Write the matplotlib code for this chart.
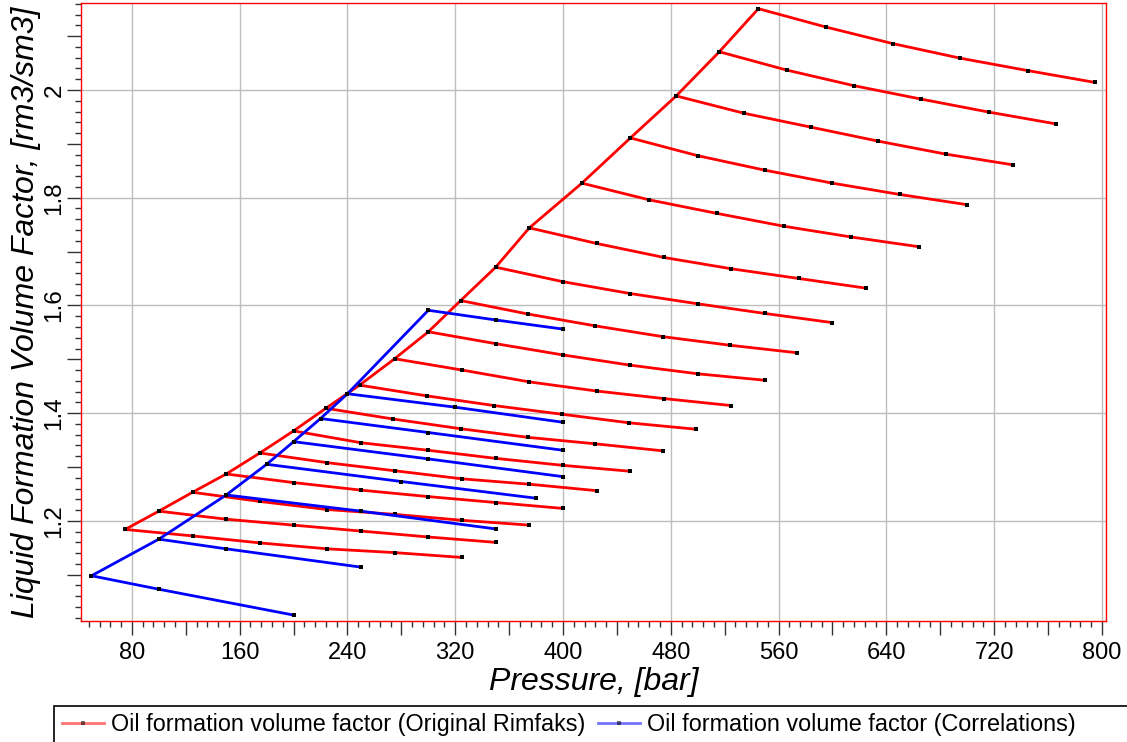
import matplotlib
matplotlib.use("Agg")
import matplotlib.pyplot as plt
from matplotlib.lines import Line2D
from matplotlib.patches import Rectangle
from matplotlib.ticker import MultipleLocator, FuncFormatter

plt.rcParams['font.family'] = ['Liberation Sans', 'DejaVu Sans']

# Original Rimfaks: bubble points and the undersaturated branch from each one
red_pb = [75, 100, 125, 150, 175, 200, 224, 249, 275, 300, 324, 350, 375,
          414, 450, 484, 516, 545]
red_bob = [1.184, 1.218, 1.253, 1.287, 1.326, 1.367, 1.409, 1.452, 1.501,
           1.551, 1.609, 1.671, 1.744, 1.827, 1.911, 1.989, 2.071, 2.151]
red_steps = [0, 50, 100, 150, 200, 250]  # bar above bubble point
red_bo = [
    [1.184, 1.172, 1.159, 1.148, 1.141, 1.132],
    [1.218, 1.203, 1.192, 1.181, 1.170, 1.160],
    [1.253, 1.236, 1.221, 1.212, 1.201, 1.192],
    [1.287, 1.271, 1.257, 1.245, 1.234, 1.223],
    [1.326, 1.308, 1.293, 1.278, 1.268, 1.256],
    [1.367, 1.345, 1.331, 1.316, 1.303, 1.292],
    [1.409, 1.389, 1.371, 1.355, 1.343, 1.330],
    [1.452, 1.432, 1.414, 1.398, 1.382, 1.370],
    [1.501, 1.480, 1.458, 1.441, 1.427, 1.414],
    [1.551, 1.529, 1.508, 1.489, 1.473, 1.461],
    [1.609, 1.584, 1.562, 1.542, 1.526, 1.512],
    [1.671, 1.644, 1.622, 1.603, 1.585, 1.568],
    [1.744, 1.715, 1.689, 1.668, 1.650, 1.632],
    [1.827, 1.796, 1.771, 1.747, 1.727, 1.709],
    [1.911, 1.878, 1.851, 1.827, 1.806, 1.787],
    [1.989, 1.957, 1.931, 1.905, 1.881, 1.861],
    [2.071, 2.037, 2.008, 1.983, 1.959, 1.937],
    [2.151, 2.117, 2.086, 2.059, 2.036, 2.014],
]

# Correlations
blue_pb = [50, 100, 150, 180, 200, 220, 240, 300]
blue_bob = [1.098, 1.166, 1.248, 1.305, 1.347, 1.390, 1.436, 1.591]
blue_p = [
    [50, 100, 200],
    [100, 150, 250],
    [150, 250, 350],
    [180, 280, 380],
    [200, 300, 400],
    [220, 300, 400],
    [240, 320, 400],
    [300, 350, 400],
]
blue_bo = [
    [1.098, 1.073, 1.025],
    [1.166, 1.148, 1.114],
    [1.248, 1.218, 1.185],
    [1.305, 1.273, 1.242],
    [1.347, 1.315, 1.282],
    [1.390, 1.364, 1.331],
    [1.436, 1.411, 1.383],
    [1.591, 1.573, 1.556],
]

labels = ["Oil formation volume factor (Original Rimfaks)",
          "Oil formation volume factor (Correlations)"]

W, H = 1127, 742
fig = plt.figure(figsize=(W / 100, H / 100), dpi=100)
ax = fig.add_axes([80.7 / W, 1 - 621 / H, (1106 - 80.7) / W, (621 - 3.3) / H])

style = dict(lw=2.0, marker='s', ms=3.2, mfc='black', mec='black', mew=0)

ax.plot(red_pb, red_bob, color='#ff0000', zorder=3, **style)
for pb, bo in zip(red_pb, red_bo):
    ax.plot([pb + s for s in red_steps], bo, color='#ff0000', zorder=3, **style)

ax.plot(blue_pb, blue_bob, color='#0000ff', zorder=4, **style)
for p, bo in zip(blue_p, blue_bo):
    ax.plot(p, bo, color='#0000ff', zorder=4, **style)

ax.set_xlim(42, 803)
ax.set_ylim(1.014, 2.161)

# grid only on labelled values
for v in range(80, 801, 80):
    ax.axvline(v, color='#bdbdbd', lw=1, zorder=1)
for v in [1.2, 1.4, 1.6, 1.8, 2.0]:
    ax.axhline(v, color='#bdbdbd', lw=1, zorder=1)

ax.xaxis.set_major_locator(MultipleLocator(40))
ax.xaxis.set_minor_locator(MultipleLocator(8))
ax.yaxis.set_major_locator(MultipleLocator(0.1))
ax.yaxis.set_minor_locator(MultipleLocator(0.02))
ax.xaxis.set_major_formatter(FuncFormatter(
    lambda v, pos: f'{v:g}' if round(v) % 80 == 0 else ''))
ax.yaxis.set_major_formatter(FuncFormatter(
    lambda v, pos: f'{round(v, 1):g}' if round(v * 10) % 2 == 0 else ''))

ax.tick_params(which='major', length=10, width=1, color='#333333',
               direction='out')
ax.tick_params(which='minor', length=4, width=1, color='#333333', direction='out')
ax.tick_params(axis='x', pad=5, labelsize=17)
ax.tick_params(axis='y', pad=1, labelsize=17.5)
plt.setp(ax.get_yticklabels(), rotation=90, va='center')

for sp in ax.spines.values():
    sp.set_color('#ff0000')
    sp.set_linewidth(1)

ax.set_xlabel("Pressure, [bar]", fontsize=23, fontstyle='italic')
ax.set_ylabel("Liquid Formation Volume Factor, [rm3/sm3]", fontsize=23,
              fontstyle='italic')
ax.xaxis.set_label_coords(0.5, -0.075)
ax.yaxis.set_label_coords(-0.039, 0.5)

# legend strip along the bottom edge
fig.patches.append(Rectangle((54 / W, -0.05), 1.1, (742 - 706) / H + 0.05,
                             transform=fig.transFigure, fill=False,
                             ec='black', lw=1.2))
handles = [
    Line2D([], [], color='#ff0000', alpha=0.55, lw=2.0, marker='s', ms=3.2,
           mfc='black', mec='black', mew=0),
    Line2D([], [], color='#0000ff', alpha=0.55, lw=2.0, marker='s', ms=3.2,
           mfc='black', mec='black', mew=0),
]
fig.legend(handles, labels, loc='center left', ncol=2, frameon=False,
           bbox_to_anchor=(62 / W, 1 - 725 / H), fontsize=16.8,
           borderpad=0, borderaxespad=0, handlelength=1.8,
           handletextpad=0.3, columnspacing=0.55)

fig.savefig("out.png", dpi=100)
